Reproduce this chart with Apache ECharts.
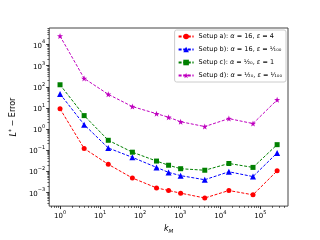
<!DOCTYPE html>
<html><head><meta charset="utf-8">
<script src="https://cdn.jsdelivr.net/npm/echarts@6/dist/echarts.min.js"></script>
<style>html,body{margin:0;padding:0;background:#fff}#c{width:320px;height:240px}</style>
</head><body><div id="c"></div>
<script>
const kM = [1, 4, 16, 64, 256, 512, 1024, 4096, 16384, 65536, 262144];
const setupA = [9.0, 0.118, 0.021, 0.0047, 0.0016, 0.0012, 0.0009, 0.00053, 0.0012, 0.00075, 0.0103];
const setupB = [46, 1.6, 0.125, 0.045, 0.015, 0.0087, 0.0061, 0.0039, 0.0093, 0.0055, 0.073];
const setupC = [125, 4.3, 0.29, 0.079, 0.030, 0.019, 0.013, 0.011, 0.023, 0.015, 0.18];
const setupD = [25500, 250, 44, 11.5, 5.3, 3.6, 2.2, 1.3, 3.1, 1.8, 24];
const seriesNames = ['Setup a)', 'Setup b)', 'Setup c)', 'Setup d)'];
const legendLabels = [
  'Setup a): {i|α} = 16, {i|ε} = 4',
  'Setup b): {i|α} = 16, {i|ε} = ¹⁄₁₀₀',
  'Setup c): {i|α} = ¹⁄₂₀, {i|ε} = 1',
  'Setup d): {i|α} = ¹⁄₂₀, {i|ε} = ¹⁄₁₀₀'
];
const xMajor = [1, 10, 100, 1000, 10000, 100000];
const yMajor = [1e-3, 1e-2, 1e-1, 1, 10, 100, 1000, 10000];

function minors(lo, hi) {
  const out = [];
  for (let n = lo; n <= hi; n++) for (let k = 2; k <= 9; k++) out.push(k * Math.pow(10, n));
  return out;
}
const xMinor = minors(-1, 5);
const yMinor = minors(-4, 4);

const xMin = Math.pow(10, -0.271), xMax = Math.pow(10, 5.69);
const yMin = Math.pow(10, -3.66), yMax = Math.pow(10, 4.79);
const FONT = 'DejaVu Sans';
const supRich = {
  b: {fontSize: 7, fontFamily: FONT, color: '#000', lineHeight: 10, verticalAlign: 'bottom'},
  s: {fontSize: 5, fontFamily: FONT, color: '#000', lineHeight: 6, verticalAlign: 'top'}
};
function powLabel(v) {
  const e = Math.round(Math.log10(v));
  return '{b|10}{s|' + (e < 0 ? '−' + (-e) : e) + '}';
}
const star = 'path://M0,-10 L2.35,-3.24 L9.51,-3.09 L3.8,1.24 L5.88,8.09 L0,4 L-5.88,8.09 L-3.8,1.24 L-9.51,-3.09 L-2.35,-3.24 Z';

function mk(name, vals, color, symbol, size) {
  return {
    name: name, type: 'line', xAxisIndex: 0, yAxisIndex: 0,
    data: kM.map((k, i) => [k, vals[i]]),
    symbol: symbol, symbolSize: size, showAllSymbol: true,
    lineStyle: {color: color, width: 1, type: [3, 1.6]},
    itemStyle: {color: color},
    animation: false
  };
}

const chart = echarts.init(document.getElementById('c'), null, {renderer: 'canvas'});
chart.setOption({
  animation: false,
  grid: {left: 40, top: 28, width: 248, height: 185, show: true, borderColor: '#444', borderWidth: 1, containLabel: false},
  legend: {
    orient: 'vertical', right: 34, top: 30,
    data: seriesNames,
    itemWidth: 15, itemHeight: 7, itemGap: 6,
    padding: [3, 4, 3, 3],
    borderColor: '#ccc', borderWidth: 1, borderRadius: 2, backgroundColor: '#fff',
    formatter: function (n) { return legendLabels[seriesNames.indexOf(n)]; },
    textStyle: {fontSize: 6.5, fontFamily: FONT, color: '#000',
      rich: {i: {fontSize: 6.5, fontFamily: FONT, fontStyle: 'italic', color: '#000'}}}
  },
  xAxis: [
    {type: 'log', logBase: 10, min: xMin, max: xMax, position: 'bottom',
     name: '{i|k}{m|M}', nameLocation: 'middle', nameGap: 17,
     nameTextStyle: {rich: {
       i: {fontSize: 8, fontFamily: FONT, fontStyle: 'italic', color: '#000', lineHeight: 10, verticalAlign: 'top'},
       m: {fontSize: 5.5, fontFamily: FONT, fontStyle: 'italic', color: '#000', lineHeight: 6, verticalAlign: 'bottom'}}},
     axisLine: {show: false},
     axisTick: {show: true, length: 3, lineStyle: {color: '#000', width: 0.8}, customValues: xMajor},
     axisLabel: {show: true, margin: 4, customValues: xMajor, formatter: powLabel, rich: supRich},
     splitLine: {show: false}, minorTick: {show: false}},
    {type: 'log', logBase: 10, min: xMin, max: xMax, position: 'bottom',
     axisLine: {show: false},
     axisTick: {show: true, length: 1.8, lineStyle: {color: '#000', width: 0.6}, customValues: xMinor},
     axisLabel: {show: false}, splitLine: {show: false}}
  ],
  yAxis: [
    {type: 'log', logBase: 10, min: yMin, max: yMax, position: 'left',
     name: '{i|L}{s|*} − Error', nameLocation: 'middle', nameGap: 26, nameRotate: 90,
     nameTextStyle: {fontSize: 8, fontFamily: FONT, color: '#000', rich: {
       i: {fontSize: 8, fontFamily: FONT, fontStyle: 'italic', color: '#000', lineHeight: 10, verticalAlign: 'bottom'},
       s: {fontSize: 6, fontFamily: FONT, color: '#000', lineHeight: 7, verticalAlign: 'top'}}},
     axisLine: {show: false},
     axisTick: {show: true, length: 3, lineStyle: {color: '#000', width: 0.8}, customValues: yMajor},
     axisLabel: {show: true, margin: 4, customValues: yMajor, formatter: powLabel, rich: supRich},
     splitLine: {show: false}},
    {type: 'log', logBase: 10, min: yMin, max: yMax, position: 'left',
     axisLine: {show: false},
     axisTick: {show: true, length: 1.8, lineStyle: {color: '#000', width: 0.6}, customValues: yMinor},
     axisLabel: {show: false}, splitLine: {show: false}}
  ],
  series: [
    mk(seriesNames[0], setupA, '#ff0000', 'circle', 5),
    mk(seriesNames[1], setupB, '#0000ff', 'triangle', 6),
    mk(seriesNames[2], setupC, '#008000', 'rect', 5),
    mk(seriesNames[3], setupD, '#bf00bf', star, 6)
  ]
});
</script></body></html>
